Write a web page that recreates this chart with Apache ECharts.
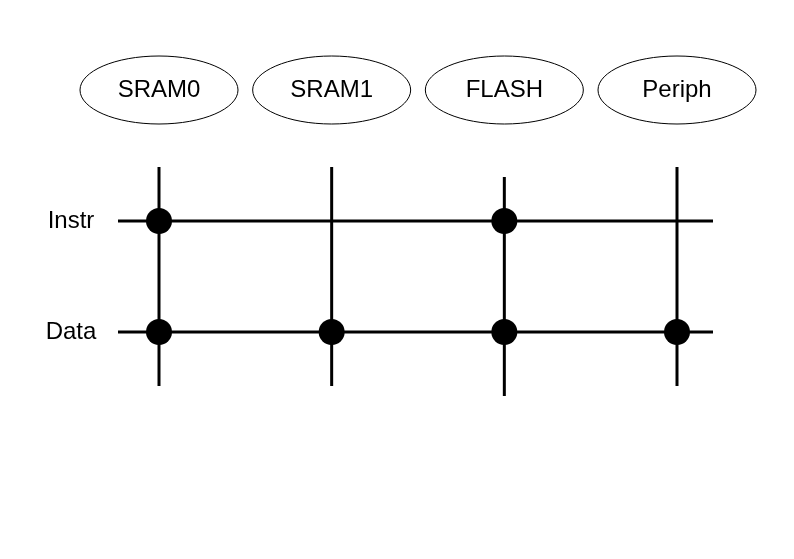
<!DOCTYPE html>
<html><head><meta charset="utf-8">
<script src="https://cdn.jsdelivr.net/npm/echarts@6/dist/echarts.min.js"></script>
<style>html,body{margin:0;background:#fff}#c{width:794px;height:559px}</style>
</head><body><div id="c"></div>
<script>
const buses = ['SRAM0', 'SRAM1', 'FLASH', 'Periph'];
const rows = ['Instr', 'Data'];
// [busIndex, rowIndex] connection points
const connections = [[0, 0], [2, 0], [0, 1], [1, 1], [2, 1], [3, 1]];

const chart = echarts.init(document.getElementById('c'));
const font = '"Liberation Sans", Arial, sans-serif';
chart.setOption({
  animation: false,
  grid: {left: 159, width: 518, top: 221, height: 111},
  xAxis: {type: 'value', min: 0, max: buses.length - 1, show: false},
  yAxis: {type: 'value', min: 0, max: rows.length - 1, inverse: true, show: false},
  series: [
    {
      type: 'custom', silent: true, z: 1,
      data: rows.map((r, i) => [0, i, r]),
      renderItem: (params, api) => {
        const p0 = api.coord([0, api.value(1)]);
        const p1 = api.coord([buses.length - 1, api.value(1)]);
        return {type: 'group', children: [
          {type: 'line', shape: {x1: p0[0] - 41, y1: p0[1], x2: p1[0] + 36, y2: p1[1]}, style: {stroke: '#000', lineWidth: 3}},
          {type: 'text', style: {text: rows[params.dataIndex], x: p0[0] - 88, y: p0[1], textAlign: 'center', textVerticalAlign: 'middle', font: '24px ' + font, fill: '#000'}}
        ]};
      }
    },
    {
      type: 'custom', silent: true, z: 2,
      data: buses.map((b, i) => [i, 0, b]),
      renderItem: (params, api) => {
        const i = api.value(0);
        const top = api.coord([i, 0]);
        const bot = api.coord([i, rows.length - 1]);
        const shift = buses[params.dataIndex] === 'FLASH' ? 10 : 0;
        return {type: 'group', children: [
          {type: 'line', shape: {x1: top[0], y1: top[1] - 54 + shift, x2: bot[0], y2: bot[1] + 54 + shift}, style: {stroke: '#000', lineWidth: 3}},
          {type: 'ellipse', shape: {cx: top[0], cy: top[1] - 131, rx: 79, ry: 34}, style: {fill: '#fff', stroke: '#000', lineWidth: 1}},
          {type: 'text', style: {text: buses[params.dataIndex], x: top[0], y: top[1] - 131, textAlign: 'center', textVerticalAlign: 'middle', font: '24px ' + font, fill: '#000'}}
        ]};
      }
    },
    {
      type: 'scatter', silent: true, z: 3,
      symbolSize: 26,
      itemStyle: {color: '#000', opacity: 1},
      data: connections
    }
  ]
});
</script></body></html>
